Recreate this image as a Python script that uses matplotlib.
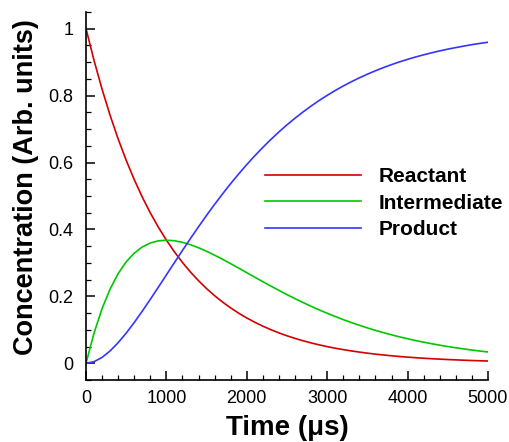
import numpy as np
import matplotlib
import matplotlib.pyplot as plt
from matplotlib.ticker import MultipleLocator, FuncFormatter

# time in microseconds, sampled every 100 us
time_us = list(range(0, 5001, 100))

reactant = [1.0000, 0.9048, 0.8187, 0.7408, 0.6703, 0.6065, 0.5488, 0.4966, 0.4493, 0.4066,
            0.3679, 0.3329, 0.3012, 0.2725, 0.2466, 0.2231, 0.2019, 0.1827, 0.1653, 0.1496,
            0.1353, 0.1225, 0.1108, 0.1003, 0.0907, 0.0821, 0.0743, 0.0672, 0.0608, 0.0550,
            0.0498, 0.0450, 0.0408, 0.0369, 0.0334, 0.0302, 0.0273, 0.0247, 0.0224, 0.0202,
            0.0183, 0.0166, 0.0150, 0.0136, 0.0123, 0.0111, 0.0101, 0.0091, 0.0082, 0.0074,
            0.0067]

intermediate = [0.0000, 0.0905, 0.1637, 0.2222, 0.2681, 0.3033, 0.3293, 0.3476, 0.3595, 0.3659,
                0.3679, 0.3662, 0.3614, 0.3543, 0.3452, 0.3347, 0.3230, 0.3106, 0.2975, 0.2842,
                0.2707, 0.2572, 0.2438, 0.2306, 0.2177, 0.2052, 0.1931, 0.1815, 0.1703, 0.1596,
                0.1494, 0.1397, 0.1304, 0.1217, 0.1135, 0.1057, 0.0984, 0.0915, 0.0850, 0.0789,
                0.0733, 0.0679, 0.0630, 0.0584, 0.0540, 0.0500, 0.0463, 0.0428, 0.0395, 0.0365,
                0.0337]

product = [0.0000, 0.0047, 0.0176, 0.0370, 0.0616, 0.0902, 0.1219, 0.1558, 0.1912, 0.2275,
           0.2642, 0.3009, 0.3374, 0.3732, 0.4082, 0.4422, 0.4751, 0.5067, 0.5372, 0.5662,
           0.5940, 0.6203, 0.6454, 0.6691, 0.6916, 0.7127, 0.7326, 0.7513, 0.7689, 0.7854,
           0.8008, 0.8153, 0.8288, 0.8414, 0.8531, 0.8641, 0.8743, 0.8838, 0.8926, 0.9009,
           0.9084, 0.9155, 0.9220, 0.9280, 0.9337, 0.9389, 0.9436, 0.9481, 0.9523, 0.9561,
           0.9596]

plt.rcParams['font.family'] = ['Liberation Sans', 'DejaVu Sans']

fig = plt.figure(figsize=(5.09, 4.42), dpi=100)
ax = fig.add_axes([0.169, 0.1403, 0.7897, 0.8326])

ax.plot(time_us, reactant, c='#d40000', lw=1.2, label='Reactant')
ax.plot(time_us, intermediate, c='#00c800', lw=1.2, label='Intermediate')
ax.plot(time_us, product, c='#3535ff', lw=1.2, label='Product')

ax.set_xlim(0, 5000)
ax.set_ylim(-0.05, 1.05)

ax.xaxis.set_major_locator(MultipleLocator(1000))
ax.xaxis.set_minor_locator(MultipleLocator(200))
ax.yaxis.set_major_locator(MultipleLocator(0.2))
ax.yaxis.set_minor_locator(MultipleLocator(0.05))
ax.yaxis.set_major_formatter(FuncFormatter(lambda v, p: '%g' % round(v, 2)))

for s in ['top', 'right']:
    ax.spines[s].set_visible(False)
for s in ['left', 'bottom']:
    ax.spines[s].set_linewidth(1.2)

ax.tick_params(which='major', direction='in', length=6.5, width=1.1, labelsize=13)
ax.tick_params(axis='y', which='major', pad=9)
ax.tick_params(axis='x', which='major', pad=7)
ax.tick_params(which='minor', direction='in', length=3.5, width=0.9)

ax.set_xlabel('Time (μs)', fontsize=20, fontweight='bold', va='center')
ax.xaxis.set_label_coords(0.5, -0.130)
ax.set_ylabel('Concentration (Arb. units)', fontsize=19.5, fontweight='bold', va='center')
ax.yaxis.set_label_coords(-0.150, 0.524)

leg = ax.legend(loc='upper left', bbox_to_anchor=(0.445, 0.578), frameon=False,
                prop={'weight': 'bold', 'size': 15}, handlelength=4.6,
                handletextpad=0.87, labelspacing=0.36, borderpad=0, borderaxespad=0)

plt.savefig('out.png', dpi=100)
